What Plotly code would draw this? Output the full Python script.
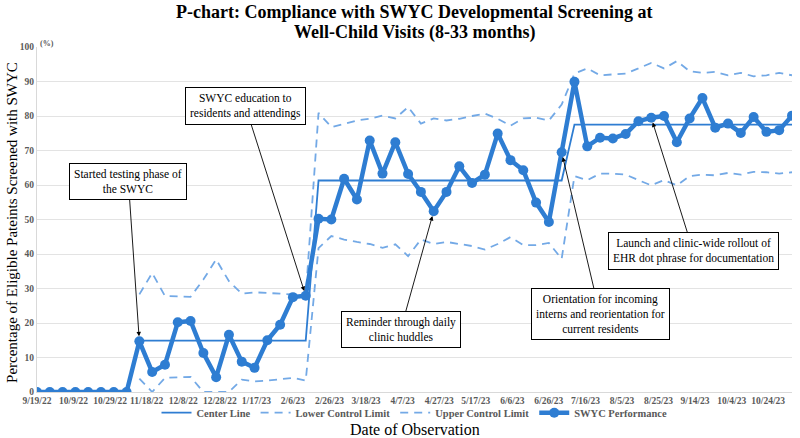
import pandas as pd
import plotly.graph_objects as go

# ---------------- data ----------------
start_date = "2022-09-19"
n_weeks = 60
dates = pd.date_range(start_date, periods=n_weeks, freq="7D")

performance = [0, 0, 0, 0, 0, 0, 0, 0,
               14.7, 5.8, 7.9, 20.2, 20.6, 11.3, 4.3, 16.6, 8.8, 7.0, 15.0, 19.5, 27.5, 27.9,
               50.2, 50.0, 61.8, 55.8, 72.9, 63.3, 72.4, 63.2, 58.0, 52.4,
               58.0, 65.4, 60.6, 63.0, 74.9, 67.2, 64.3, 54.9, 49.3, 69.5,
               89.9, 71.2, 73.7, 73.5, 74.8, 78.5, 79.5, 80.0, 72.4,
               79.3, 85.2, 76.6, 77.8, 75.1, 79.7, 75.4, 75.9, 80.1]

center_line = [None, None, None, None, None, None, None, None,
               14.9, 14.9, 14.9, 14.9, 14.9, 14.9, 14.9, 14.9, 14.9, 14.9, 14.9, 14.9, 14.9, 14.9,
               61.3, 61.3, 61.3, 61.3, 61.3, 61.3, 61.3, 61.3, 61.3, 61.3,
               61.3, 61.3, 61.3, 61.3, 61.3, 61.3, 61.3, 61.3, 61.3, 61.3,
               77.5, 77.5, 77.5, 77.5, 77.5, 77.5, 77.5, 77.5, 77.5,
               77.5, 77.5, 77.5, 77.5, 77.5, 77.5, 77.5, 77.5, 77.5]

lower_limit = [None, None, None, None, None, None, None, None,
               3.9, 0.0, 4.1, 4.3, 4.4, 0.0, 0.0, 0.0, 3.6, 3.1, 3.3, 3.6, 4.1, 3.3,
               41.7, 45.2, 44.2, 43.5, 42.9, 41.8, 42.8, 39.4, 44.2, 42.9,
               43.5, 42.9, 42.3, 41.3, 42.9, 44.9, 42.6, 42.6, 43.2, 38.6,
               62.6, 61.4, 63.3, 63.3, 63.0, 61.4, 59.9, 61.4, 59.9,
               62.6, 63.0, 62.8, 63.5, 63.0, 63.8, 63.7, 63.3, 63.7]

upper_limit = [None, None, None, None, None, None, None, None,
               28.3, 34.5, 27.8, 27.6, 27.6, 32.6, 38.4, 32.1, 28.5, 28.9, 28.8, 28.5, 28.2, 27.9,
               80.9, 76.8, 77.7, 78.7, 79.2, 80.1, 79.3, 82.6, 77.8, 79.3,
               78.7, 79.2, 80.0, 80.7, 79.2, 77.2, 79.3, 79.5, 78.7, 83.3,
               92.3, 93.8, 91.8, 92.0, 92.3, 93.8, 95.4, 93.8, 95.9,
               93.0, 92.5, 92.8, 91.8, 92.5, 91.5, 91.8, 92.5, 91.8]

title_lines = ["P-chart: Compliance with SWYC Developmental Screening at",
               "Well-Child Visits (8-33 months)"]

# annotations: (text, target week index, box centre date, box centre value)
notes = [
    ("Started testing phase of<br>the SWYC", 8, "2022-11-08", 61.0),
    ("SWYC education to<br>residents and attendings", 21, "2023-01-11", 82.8),
    ("Reminder through daily<br>clinic huddles", 31, "2023-04-06", 18.2),
    ("Orientation for incoming<br>interns and reorientation for<br>current residents", 41, "2023-07-24", 22.5),
    ("Launch and clinic-wide rollout of<br>EHR dot phrase for documentation", 48, "2023-09-13", 40.8),
]

# ---------------- styling ----------------
SERIF = "Liberation Serif, Times New Roman, serif"
BLUE = "#2E7DD2"
LIGHT = "#73A9E6"
GRAY = "#595959"

fig = go.Figure()
fig.add_trace(go.Scatter(x=dates, y=center_line, name="Center Line", mode="lines",
                         line=dict(color=BLUE, width=1.8)))
fig.add_trace(go.Scatter(x=dates, y=lower_limit, name="Lower Control Limit", mode="lines",
                         line=dict(color=LIGHT, width=1.8, dash="8px,6px")))
fig.add_trace(go.Scatter(x=dates, y=upper_limit, name="Upper Control Limit", mode="lines",
                         line=dict(color=LIGHT, width=1.8, dash="8px,6px")))
fig.add_trace(go.Scatter(x=dates, y=performance, name="SWYC Performance", mode="lines+markers",
                         line=dict(color=BLUE, width=4.5),
                         marker=dict(color=BLUE, size=10)))

annotations = []
for text, idx, bx, by in notes:
    annotations.append(dict(
        x=dates[idx], y=performance[idx], xref="x", yref="y",
        ax=bx, ay=by, axref="x", ayref="y",
        text=text, showarrow=True, arrowhead=2, arrowsize=1, arrowwidth=0.9,
        arrowcolor="black", standoff=5,
        font=dict(family=SERIF, size=11.5, color="black"),
        bgcolor="white", bordercolor="black", borderwidth=1, borderpad=4,
        align="center"))

for line_text, shift in zip(title_lines, [35, 15]):
    annotations.append(dict(text="<b>" + line_text + "</b>",
                            xref="paper", yref="paper", x=0.5, y=1, yshift=shift,
                            showarrow=False, xanchor="center", yanchor="middle",
                            font=dict(family=SERIF, size=18, color="black")))
annotations.append(dict(text="Percentage of Eligible Pateints Screened with SWYC",
                        xref="paper", yref="paper", x=0, y=0.49, xshift=-25,
                        textangle=-90, showarrow=False, xanchor="center", yanchor="middle",
                        font=dict(family=SERIF, size=15, color="black")))
annotations.append(dict(text="Date of Observation", xref="paper", yref="paper",
                        x=0.5, y=-0.11, showarrow=False, xanchor="center", yanchor="middle",
                        font=dict(family=SERIF, size=16, color="black")))
annotations.append(dict(text="<b>(%)</b>", xref="paper", yref="paper", x=0, y=1,
                        xshift=10, yshift=4, showarrow=False, xanchor="center", yanchor="middle",
                        font=dict(family=SERIF, size=8, color=GRAY)))

fig.update_layout(
    width=800, height=438,
    margin=dict(l=37, r=8, t=47, b=46),
    paper_bgcolor="white", plot_bgcolor="white",
    legend=dict(orientation="h", x=0.5, xanchor="center", y=-0.06, yanchor="middle",
                font=dict(family=SERIF, size=10.5, color=GRAY, weight="bold"),
                bgcolor="rgba(0,0,0,0)"),
    annotations=annotations,
    xaxis=dict(type="date", range=[dates[0], dates[-1]],
               tick0=start_date, dtick=20 * 86400000, tickformat="%-m/%-d/%y",
               tickangle=0, automargin=False,
               showgrid=False, showline=True, linecolor="#D9D9D9", linewidth=1,
               ticks="", zeroline=False,
               tickfont=dict(family=SERIF, size=9.5, color=GRAY, weight="bold")),
    yaxis=dict(range=[0, 100], dtick=10, showgrid=True, gridcolor="#E3E3E3", gridwidth=1,
               automargin=False,
               showline=True, linecolor="#D9D9D9", zeroline=False, ticks="",
               tickfont=dict(family=SERIF, size=9.5, color=GRAY, weight="bold")),
    showlegend=True,
)

fig.write_html("out.html", config={"displayModeBar": False},
               post_script="document.body.style.margin='0';document.body.style.overflow='hidden';")
